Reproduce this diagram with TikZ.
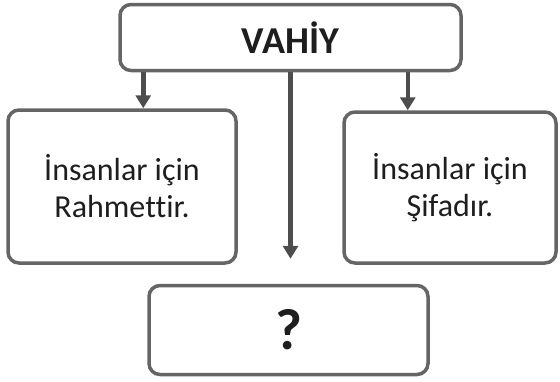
\documentclass[tikz,border=0pt]{standalone}
\usepackage{fontspec}
\setmainfont{Carlito}[Ligatures=NoCommon]
\usetikzlibrary{arrows.meta}
\definecolor{kenar}{HTML}{656565}
\definecolor{ok}{HTML}{4D4D4D}
\definecolor{yazi}{HTML}{1E1E1E}
\tikzset{
  kutu/.style={draw=kenar, line width=3.5pt, rounded corners=11pt, fill=white,
    inner sep=0pt, align=center, text=yazi, font=\fontsize{32}{37}\selectfont},
  okcizgi/.style={draw=ok, line width=4.5pt, -{Triangle[width=15pt,length=13pt]}}
}
\begin{document}
\begin{tikzpicture}[x=1pt,y=-1pt]
\useasboundingbox (0,0) rectangle (560,381);
\node[kutu, minimum width=341pt, minimum height=66pt,
  font=\fontsize{38}{42}\selectfont\bfseries] (vahiy) at (290.5,37.5) {VAHİY};
\node[kutu, minimum width=228pt, minimum height=153pt] (rahmet) at (122,186.5) {İnsanlar için\\Rahmettir.};
\node[kutu, minimum width=212pt, minimum height=151pt] (sifa) at (450,187.5) {İnsanlar için\\Şifadır.};
\node[kutu, minimum width=279pt, minimum height=89pt,
  font=\fontsize{58}{62}\selectfont\bfseries] (soru) at (288.5,330) {?};
\coordinate (ucu) at ([yshift=25pt]soru.north -| vahiy.south);
\draw[okcizgi] ([xshift=25pt]vahiy.south west) -- ([xshift=25pt]vahiy.south west |- rahmet.north);
\draw[okcizgi] ([xshift=-55pt]vahiy.south east) -- ([xshift=-55pt]vahiy.south east |- sifa.north);
\draw[okcizgi] (vahiy.south) -- (ucu);
\end{tikzpicture}
\end{document}
